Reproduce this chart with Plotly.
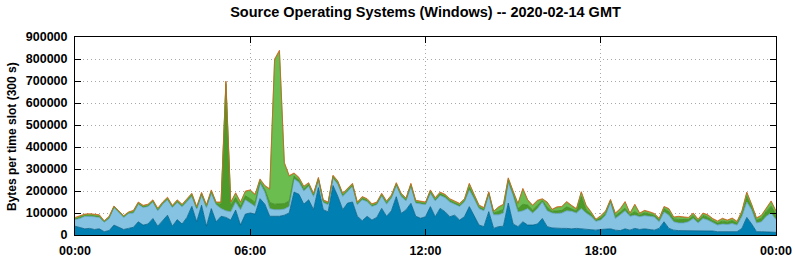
import numpy as np
import plotly.graph_objects as go

# values in thousands of bytes per 300 s slot, 10-minute samples from 00:00 to 24:00
dark_blue_k = [
    40, 35, 28, 30, 25, 28,
    15, 20, 45, 35, 25, 30,
    35, 60, 45, 50, 75, 40,
    65, 90, 40, 70, 50, 80,
    130, 60, 135, 40, 120, 60,
    85, 80, 68, 113, 45, 95,
    100, 95, 165, 140, 85, 85,
    85, 90, 100, 195, 185, 140,
    160, 115, 215, 115, 105, 225,
    175, 115, 145, 150, 85, 65,
    85, 68, 80, 121, 85, 110,
    174, 98, 114, 144, 85, 76,
    83, 129, 83, 121, 106, 83,
    90, 68, 83, 129, 90, 45,
    38, 106, 30, 38, 40, 145,
    50, 38, 60, 45, 45, 50,
    75, 38, 32, 30, 30, 30,
    28, 30, 28, 28, 25, 22,
    25, 25, 28, 22, 20, 28,
    22, 30, 25, 28, 25, 22,
    30, 60, 30, 22, 20, 20,
    20, 18, 18, 20, 18, 18,
    15, 15, 15, 15, 15, 30,
    80, 50, 15, 15, 15, 15,
    12]
light_blue_k = [
    30, 40, 57, 55, 58, 52,
    43, 55, 80, 68, 55, 68,
    65, 80, 80, 80, 75, 70,
    75, 70, 85, 78, 78, 72,
    45, 58, 45, 85, 70, 78,
    35, 30, 38, 37, 70, 65,
    45, 35, 70, 55, 35, 30,
    30, 28, 30, 60, 55, 60,
    62, 60, 33, 33, 33, 33,
    55, 60, 53, 72, 53, 95,
    67, 62, 58, 57, 55, 58,
    51, 77, 41, 76, 60, 64,
    55, 61, 72, 59, 64, 67,
    50, 62, 67, 76, 75, 75,
    72, 79, 62, 54, 60, 95,
    130, 67, 50, 75, 55, 70,
    75, 72, 68, 68, 70, 80,
    80, 70, 92, 72, 60, 40,
    43, 65, 122, 53, 72, 82,
    63, 60, 58, 60, 60, 60,
    30, 45, 60, 38, 35, 35,
    40, 57, 37, 55, 50, 37,
    30, 35, 33, 37, 30, 55,
    70, 65, 40, 45, 70, 85,
    58]
dark_green_k = [
    4, 5, 4, 5, 5, 5,
    3, 4, 3, 3, 4, 3,
    5, 4, 4, 4, 4, 5,
    4, 5, 4, 5, 5, 6,
    7, 5, 6, 6, 7, 5,
    18, 574, 28, 20, 16, 18,
    20, 18, 8, 12, 28, 25,
    25, 25, 25, 12, 10, 10,
    8, 7, 7, 6, 6, 7,
    7, 7, 7, 6, 5, 7,
    6, 5, 5, 5, 7, 6,
    6, 7, 6, 7, 6, 7,
    5, 7, 7, 7, 7, 7,
    7, 6, 7, 12, 9, 7,
    7, 5, 7, 14, 16, 8,
    10, 15, 30, 16, 14, 15,
    7, 16, 8, 12, 12, 18,
    12, 9, 55, 15, 10, 5,
    10, 10, 5, 12, 12, 12,
    7, 16, 8, 12, 10, 7,
    8, 14, 16, 12, 16, 15,
    10, 13, 8, 13, 12, 10,
    9, 13, 10, 13, 8, 13,
    25, 13, 12, 16, 22, 31,
    22]
light_green_k = [
    2, 2, 2, 3, 3, 3,
    1, 2, 1, 1, 1, 1,
    3, 2, 2, 2, 2, 3,
    2, 3, 2, 3, 3, 3,
    4, 3, 4, 3, 4, 3,
    8, 10, 12, 18, 15, 18,
    36, 33, 8, 14, 58, 652,
    692, 181, 110, 11, 8, 8,
    4, 4, 3, 2, 2, 3,
    4, 4, 3, 3, 3, 4,
    3, 3, 3, 3, 4, 4,
    3, 4, 3, 4, 3, 4,
    3, 4, 4, 4, 4, 4,
    4, 4, 4, 14, 7, 5,
    4, 3, 5, 18, 20, 8,
    6, 20, 66, 20, 18, 19,
    4, 20, 5, 14, 14, 20,
    11, 7, 18, 16, 7, 2,
    6, 6, 3, 9, 12, 26,
    4, 30, 5, 8, 7, 5,
    4, 7, 10, 6, 10, 10,
    6, 8, 5, 8, 8, 6,
    6, 9, 6, 8, 5, 8,
    16, 8, 7, 10, 14, 20,
    14]
orange_k = [
    4, 4, 4, 4, 4, 4,
    3, 4, 3, 3, 3, 3,
    4, 4, 4, 4, 4, 4,
    4, 4, 4, 4, 4, 4,
    4, 4, 4, 4, 4, 4,
    4, 6, 4, 4, 4, 4,
    4, 4, 4, 4, 4, 8,
    8, 6, 5, 4, 4, 4,
    4, 4, 4, 4, 4, 4,
    4, 4, 4, 4, 4, 4,
    4, 4, 4, 4, 4, 4,
    4, 4, 4, 4, 4, 4,
    4, 4, 4, 4, 4, 4,
    4, 4, 4, 4, 4, 4,
    4, 4, 4, 4, 4, 4,
    4, 4, 6, 4, 4, 4,
    4, 4, 4, 4, 4, 4,
    4, 4, 4, 4, 4, 3,
    4, 4, 4, 4, 4, 4,
    4, 4, 4, 4, 4, 4,
    4, 4, 4, 4, 4, 4,
    4, 4, 4, 4, 4, 4,
    4, 4, 4, 4, 4, 4,
    4, 4, 4, 4, 4, 4,
    4]

x_tick_vals = [0, 6, 12, 18, 24]
x_tick_text = ["00:00", "06:00", "12:00", "18:00", "00:00"]
y_tick_vals = [0, 100000, 200000, 300000, 400000, 500000, 600000, 700000, 800000, 900000]

hours = np.arange(len(dark_blue_k)) / 6.0

layers = [
    (dark_blue_k, "#0080b2", "#005f86"),
    (light_blue_k, "#86c2e2", "#5f9fc2"),
    (dark_green_k, "#4b9a2a", "#3f8a22"),
    (light_green_k, "#6cbd50", "#5aab40"),
    (orange_k, "#d0741e", "#c8641a"),
]

fig = go.Figure()
for vals, fill, edge in layers:
    fig.add_trace(go.Scatter(
        x=hours, y=np.array(vals) * 1000, mode="lines",
        stackgroup="one", fillcolor=fill,
        line=dict(color=edge, width=0.8), hoverinfo="skip", showlegend=False))

font = "Liberation Sans, Arial, sans-serif"
fig.update_layout(
    width=795, height=260,
    margin=dict(l=75, r=19, t=37, b=25, autoexpand=False),
    paper_bgcolor="white", plot_bgcolor="white",
    title=dict(text="Source Operating Systems (Windows) -- 2020-02-14 GMT",
               font=dict(family=font, size=14.5, color="black", weight="bold"),
               x=0.5, xref="paper", xanchor="center",
               y=1 - 12 / 260, yref="container", yanchor="middle"),
    showlegend=False,
)
fig.update_xaxes(
    range=[0, 24], tickvals=x_tick_vals, ticktext=x_tick_text, automargin=False,
    showline=True, linecolor="black", linewidth=1, mirror="allticks",
    ticks="inside", ticklen=6, tickcolor="black",
    showgrid=True, gridcolor="#a8a8a8", griddash="1px,3px", gridwidth=1,
    tickfont=dict(family=font, size=12.5, color="black", weight="bold"),
    ticklabelstandoff=4, zeroline=False,
)
fig.update_yaxes(
    range=[0, 900000], tickvals=y_tick_vals, tickformat="d", automargin=False,
    showline=True, linecolor="black", linewidth=1, mirror="allticks",
    ticks="inside", ticklen=6, tickcolor="black",
    showgrid=True, gridcolor="#a8a8a8", griddash="1px,3px", gridwidth=1,
    tickfont=dict(family=font, size=12.5, color="black", weight="bold"),
    ticklabelstandoff=4, zeroline=False,
)
fig.add_annotation(
    text="Bytes per time slot (300 s)", textangle=-90,
    xref="paper", yref="paper", x=(12 - 75) / 701, y=(235 - 137) / 198,
    xanchor="center", yanchor="middle", showarrow=False,
    font=dict(family=font, size=12, color="black", weight="bold"))

fig.write_html("out.html")
